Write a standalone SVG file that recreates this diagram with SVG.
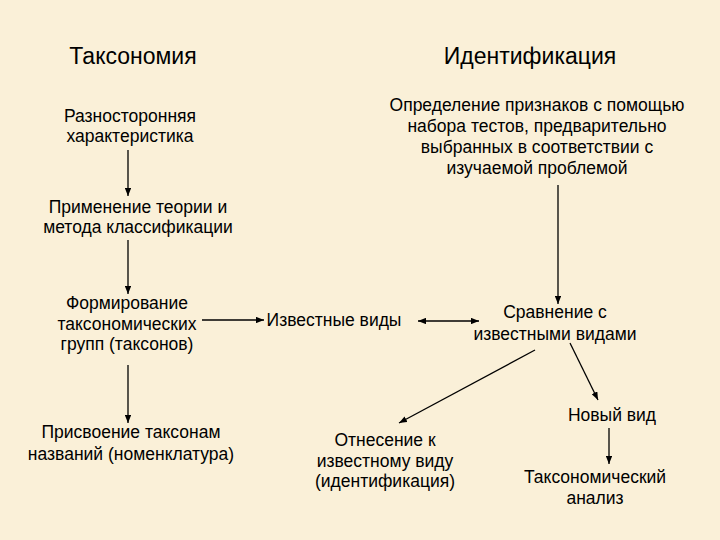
<svg xmlns="http://www.w3.org/2000/svg" width="720" height="540" viewBox="0 0 720 540">
<style>
text{font-family:"Liberation Sans",Arial,sans-serif;fill:#000;text-anchor:middle}
.t{font-size:23px}
.b{font-size:17.5px}
.c{stroke:#000;stroke-width:1.3;fill:none}
</style>
<defs>
<marker id="ah" viewBox="0 0 10 8" refX="10" refY="4" markerWidth="8" markerHeight="6.5" markerUnits="userSpaceOnUse" orient="auto-start-reverse">
<path d="M0,0 L10,4 L0,8 Z" fill="#000"/>
</marker>
</defs>
<rect width="720" height="540" fill="#FAF0D8"/>
<g id="title-taxonomy"><text class="t" x="133" y="64">Таксономия</text></g>
<g id="title-identification"><text class="t" x="530" y="64">Идентификация</text></g>
<g id="n-raznostoronnyaya"><text class="b" x="130" y="122">Разносторонняя</text><text class="b" x="130" y="142">характеристика</text></g>
<g id="n-opredelenie"><text class="b" x="537" y="111">Определение признаков с помощью</text><text class="b" x="537" y="132">набора тестов, предварительно</text><text class="b" x="537" y="153">выбранных в соответствии с</text><text class="b" x="537" y="174">изучаемой проблемой</text></g>
<g id="n-primenenie"><text class="b" x="138" y="213">Применение теории и</text><text class="b" x="138" y="233">метода классификации</text></g>
<g id="n-formirovanie"><text class="b" x="127" y="309">Формирование</text><text class="b" x="127" y="330">таксономических</text><text class="b" x="127" y="350">групп (таксонов)</text></g>
<g id="n-izvestnye"><text class="b" x="334" y="326">Известные виды</text></g>
<g id="n-sravnenie"><text class="b" x="555" y="318">Сравнение с</text><text class="b" x="555" y="340">известными видами</text></g>
<g id="n-prisvoenie"><text class="b" x="131" y="438">Присвоение таксонам</text><text class="b" x="131" y="460">названий (номенклатура)</text></g>
<g id="n-otnesenie"><text class="b" x="385" y="446">Отнесение к</text><text class="b" x="385" y="467">известному виду</text><text class="b" x="385" y="487">(идентификация)</text></g>
<g id="n-novyi"><text class="b" x="612" y="421">Новый вид</text></g>
<g id="n-analiz"><text class="b" x="595" y="483">Таксономический</text><text class="b" x="595" y="504">анализ</text></g>
<g id="connectors">
<line class="c" x1="128" y1="150" x2="128" y2="196" marker-end="url(#ah)"/>
<line class="c" x1="128" y1="240" x2="128" y2="294" marker-end="url(#ah)"/>
<line class="c" x1="128" y1="365" x2="128" y2="423" marker-end="url(#ah)"/>
<line class="c" x1="202" y1="320" x2="264" y2="320" marker-end="url(#ah)"/>
<line class="c" x1="418" y1="321" x2="479" y2="321" marker-start="url(#ah)" marker-end="url(#ah)"/>
<line class="c" x1="558" y1="185" x2="558" y2="304" marker-end="url(#ah)"/>
<line class="c" x1="535" y1="350" x2="399" y2="423" marker-end="url(#ah)"/>
<line class="c" x1="570" y1="343" x2="598" y2="400" marker-end="url(#ah)"/>
<line class="c" x1="609" y1="428" x2="609" y2="464" marker-end="url(#ah)"/>
</g>
</svg>
